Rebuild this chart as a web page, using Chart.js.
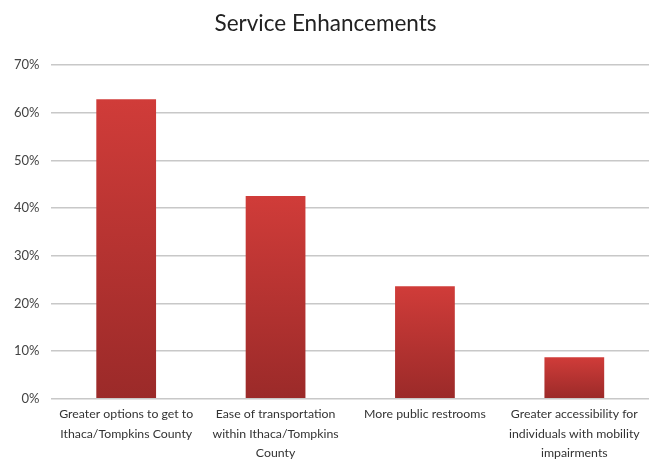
<!DOCTYPE html>
<html>
<head>
<meta charset="utf-8">
<script src="https://cdn.jsdelivr.net/npm/chart.js@4/dist/chart.umd.min.js"></script>
<style>
  html, body { margin: 0; padding: 0; background: #fff; overflow: hidden; }
  #wrap { width: 649px; height: 473px; }
</style>
</head>
<body>
<div id="wrap"><canvas id="myChart"></canvas></div>
<script>
// data
var categories = [
  ["Greater options to get to", "Ithaca/Tompkins County"],
  ["Ease of transportation", "within Ithaca/Tompkins", "County"],
  ["More public restrooms"],
  ["Greater accessibility for", "individuals with mobility", "impairments"]
];
var values = [0.628, 0.425, 0.236, 0.087];
var yTicks = [0, 0.1, 0.2, 0.3, 0.4, 0.5, 0.6, 0.7];

var labelFont = "'Lato', 'Liberation Sans', sans-serif";

// per-bar vertical gradient, bright at the top, dark at the base
function barFill(ctx) {
  var chart = ctx.chart;
  if (!chart.chartArea || ctx.parsed == null) return "#c0362f";
  var y = chart.scales.y;
  var top = y.getPixelForValue(ctx.parsed.y);
  var bottom = y.getPixelForValue(0);
  var g = chart.ctx.createLinearGradient(0, top, 0, bottom);
  g.addColorStop(0, "#d03c39");
  g.addColorStop(1, "#9b2a29");
  return g;
}

var ctx = document.getElementById('myChart').getContext('2d');
var myChart = new Chart(ctx, {
  type: 'bar',
  data: {
    labels: categories,
    datasets: [{
      data: values,
      backgroundColor: barFill,
      borderWidth: 0,
      categoryPercentage: 1.0,
      barPercentage: 0.4
    }]
  },
  options: {
    responsive: true,
    maintainAspectRatio: false,
    animation: false,
    layout: { padding: { left: 2, right: 0, top: 4, bottom: 4 } },
    plugins: {
      legend: { display: false },
      tooltip: { enabled: false },
      title: {
        display: true,
        text: 'Service Enhancements',
        color: '#222',
        font: { family: labelFont, size: 22.5, weight: 'normal' },
        padding: { top: 6, bottom: 28 }
      }
    },
    scales: {
      x: {
        grid: { display: false, drawTicks: false },
        border: { display: false },
        ticks: {
          color: '#333',
          font: { family: labelFont, size: 12.3, lineHeight: 1.58 },
          maxRotation: 0,
          autoSkip: false,
          padding: 6
        }
      },
      y: {
        min: 0,
        max: 0.7,
        afterBuildTicks: function(axis) {
          axis.ticks = yTicks.map(function(v) { return { value: v }; });
        },
        grid: { color: '#c8c8c8', lineWidth: 1.5, drawTicks: false },
        border: { display: false },
        ticks: {
          color: '#444',
          font: { family: labelFont, size: 13 },
          padding: 12,
          callback: function(v) { return Math.round(v * 100) + '%'; }
        }
      }
    }
  }
});
</script>
</body>
</html>
